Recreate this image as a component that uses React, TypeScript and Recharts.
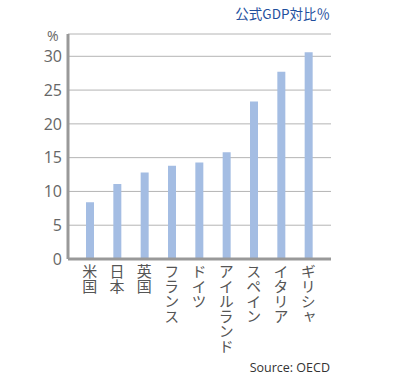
import { BarChart, Bar, XAxis, YAxis, CartesianGrid } from "recharts";

const countries = ["米国", "日本", "英国", "フランス", "ドイツ", "アイルランド", "スペイン", "イタリア", "ギリシャ"];
const debtRatio = [8.4, 11.1, 12.8, 13.8, 14.3, 15.8, 23.3, 27.7, 30.6];
const yTicks = [0, 5, 10, 15, 20, 25, 30];

const data = countries.map((name, i) => ({ name, value: debtRatio[i] }));

const labelFont = "'Open Sans', 'Noto Sans CJK JP', sans-serif";

// country names are written top-to-bottom under each bar
function VerticalTick(props: any) {
    const { x, y, payload } = props;
    return (
        <text
            x={x}
            y={y - 3}
            fill="#555"
            fontSize={15}
            fontFamily="'Noto Sans CJK JP', sans-serif"
            style={{ writingMode: "vertical-rl", textOrientation: "upright" } as any}
        >
            {payload.value}
        </text>
    );
}

export default function App() {
    return (
        <div style={{ position: "absolute", left: 0, top: 0, width: 400, height: 380, background: "#fff" }}>
            <div
                style={{
                    position: "absolute",
                    right: 70,
                    top: 5,
                    fontSize: 13.5,
                    lineHeight: "16px",
                    color: "#1f4f9e",
                    fontFamily: "'Noto Sans CJK JP', sans-serif",
                }}
            >
                公式GDP対比％
            </div>
            <div
                style={{
                    position: "absolute",
                    left: 47,
                    top: 29,
                    fontSize: 14,
                    lineHeight: "14px",
                    color: "#666",
                    fontFamily: labelFont,
                }}
            >
                %
            </div>
            <BarChart
                width={400}
                height={380}
                data={data}
                margin={{ top: 34, right: 69, left: 0, bottom: 21 }}
            >
                <CartesianGrid vertical={false} stroke="#b4b4b4" strokeWidth={1} />
                <XAxis
                    dataKey="name"
                    interval={0}
                    height={100}
                    padding={{ left: 8, right: 9 }}
                    axisLine={{ stroke: "#999", strokeWidth: 3 }}
                    tickLine={false}
                    tick={<VerticalTick />}
                />
                <YAxis
                    width={68}
                    domain={[0, 33.3]}
                    ticks={yTicks}
                    interval={0}
                    axisLine={{ stroke: "#999", strokeWidth: 3 }}
                    tickLine={false}
                    tickSize={0}
                    tickMargin={6}
                    tick={{ fill: "#666", fontSize: 16, fontFamily: labelFont }}
                />
                <Bar dataKey="value" fill="#a4bde3" barSize={8} isAnimationActive={false} />
            </BarChart>
            <div
                style={{
                    position: "absolute",
                    right: 70,
                    top: 361,
                    fontSize: 12.5,
                    lineHeight: "14px",
                    color: "#333",
                    fontFamily: labelFont,
                }}
            >
                Source: OECD
            </div>
        </div>
    );
}
